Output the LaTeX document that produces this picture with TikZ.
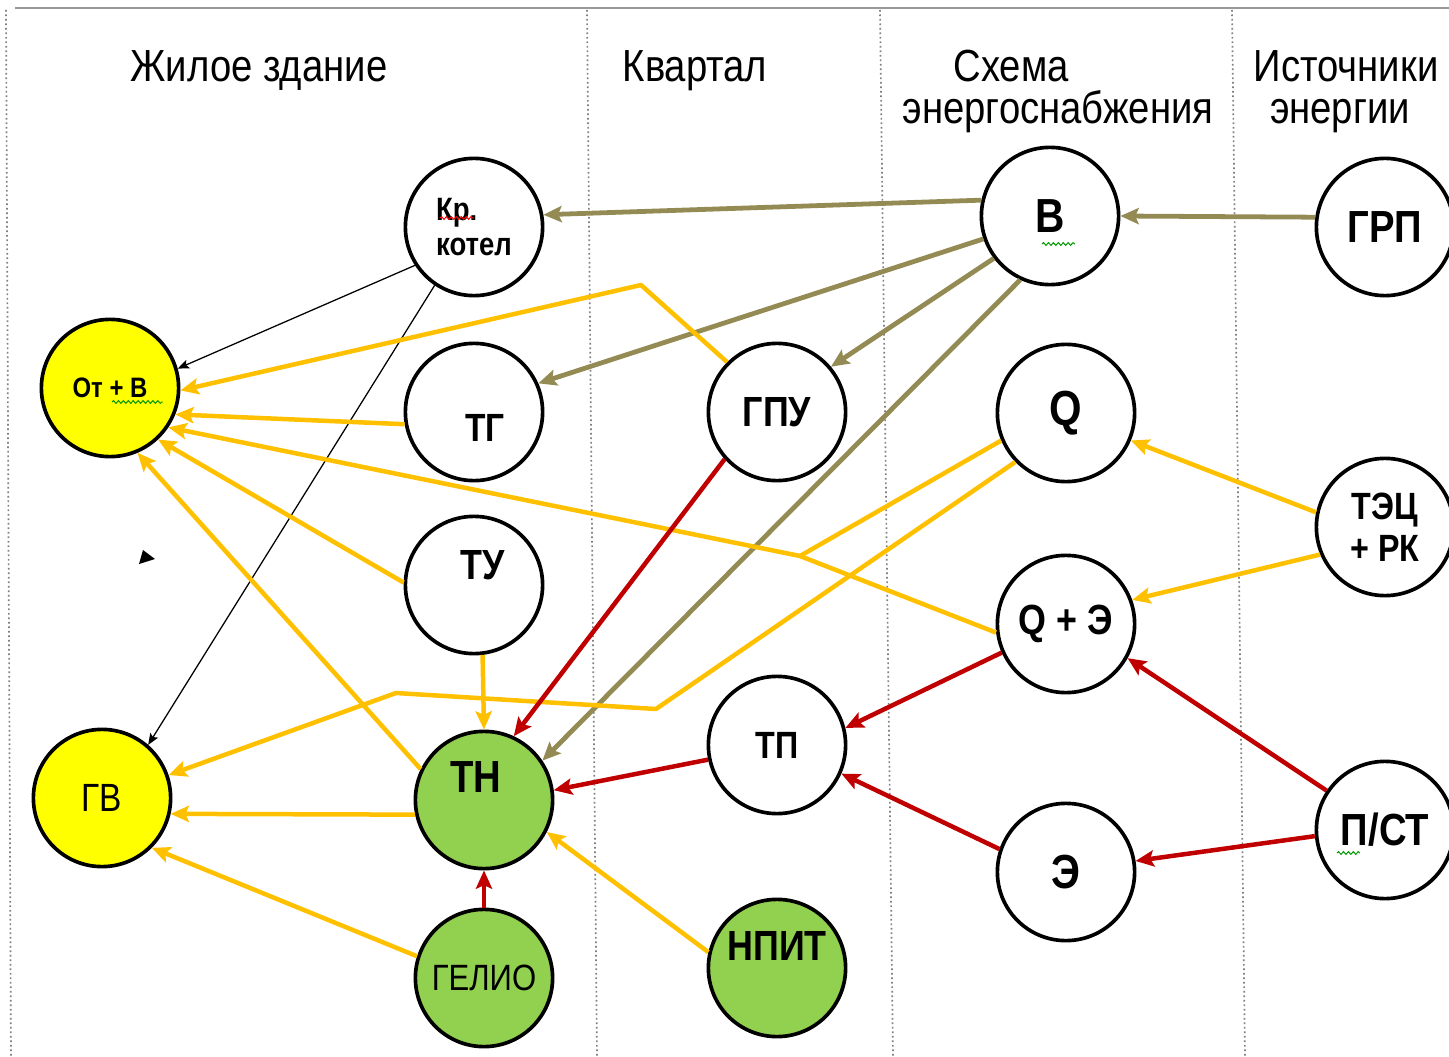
\documentclass[tikz,border=0pt]{standalone}
\usepackage{fontspec}
\setmainfont{Liberation Sans}[FakeStretch=0.85]
\usetikzlibrary{arrows.meta,decorations.pathmorphing}

\definecolor{heatc}{HTML}{FFC000}
\definecolor{gasc}{HTML}{948A54}
\definecolor{powerc}{HTML}{C00000}
\definecolor{loadc}{HTML}{FFFF00}
\definecolor{greenc}{HTML}{92D050}

\newcommand{\fs}[1]{\fontsize{#1}{1.1\dimexpr#1pt\relax}\selectfont}

\tikzset{>={Stealth[length=13pt,width=11.5pt,inset=2.5pt]},
  bubble/.style={circle,draw,line width=2.6pt,minimum size=3.43cm,inner sep=0pt,
    fill=white,align=center,font=\fs{30}\bfseries},
  tag/.style={font=\fs{30}\bfseries},
  head/.style={font=\fs{32},inner sep=0pt,text height=22pt,text depth=5pt},
  sep/.style={gray,dotted,line width=1.2pt},
  heatline/.style={heatc,line width=3.2pt,line join=round,->},
  gasline/.style={gasc,line width=3.4pt,->},
  powerline/.style={powerc,line width=3.2pt,->},
  thinline/.style={black,line width=0.9pt,-{Stealth[length=8pt,width=6.5pt,inset=1.5pt]}},
  squig/.style={line width=0.7pt,decorate,decoration={snake,amplitude=1pt,segment length=3.5pt}}}

\begin{document}
\begin{tikzpicture}[x=0.025cm,y=-0.025cm]
  \useasboundingbox (0,0) rectangle (1449,1057);
  \clip (0,0) rectangle (1449,1057);

  % frame and columns
  \draw[gray!80,line width=1.4pt] (15,8) -- (1449,8);
  \foreach \xa/\xb in {6/11,587/597,880/893,1232/1245}
    \draw[sep] (\xa,10) -- (\xb,1057);

  \node[head] (hdwell) at (259,70) {Жилое здание};
  \node[head] (hblock) at (695,70) {Квартал};
  \node[head] (hschema) at (1011,70) {Схема};
  \node[head] (hsupply) at (1058,112) {энергоснабжения};
  \node[head] (hsource) at (1346,70) {Источники};
  \node[head] (henergy) at (1340,112) {энергии};

  % building
  \node[bubble,align=left,font=\fs{23}\bfseries] (kr) at (474,227) {Кр.\\котел};
  \node[bubble,fill=loadc,font=\fs{20}\bfseries] (otv) at (110,388) {От + В};
  \node[bubble,label={[tag,font=\fs{28}\bfseries,shift={(8pt,-11pt)}]center:ТГ}] (tg) at (474,412) {};
  \node[bubble,label={[tag,shift={(6pt,14pt)}]center:ТУ}] (tu) at (474,585) {};
  \node[bubble,fill=loadc,font=\fs{28}] (gv) at (102,798) {ГВ};
  \node[bubble,fill=greenc,label={[tag,font=\fs{32}\bfseries,shift={(-6pt,16pt)}]center:ТН}] (tn) at (484,800) {};
  \node[bubble,fill=greenc,font=\fs{26}] (gelio) at (484,978) {ГЕЛИО};

  % block
  \node[bubble] (gpu) at (777,412) {ГПУ};
  \node[bubble,font=\fs{27}\bfseries] (tp) at (777,745) {ТП};
  \node[bubble,fill=greenc,label={[tag,shift={(0pt,16pt)}]center:НПИТ}] (npit) at (777,968) {};

  % supply scheme
  \node[bubble,font=\fs{34}\bfseries] (v) at (1050,216) {В};
  \node[bubble,font=\fs{35}\bfseries] (q) at (1066,413) {Q};
  \node[bubble] (qe) at (1066,624) {Q + Э};
  \node[bubble,font=\fs{34}\bfseries] (e) at (1066,872) {Э};

  % sources
  \node[bubble,font=\fs{32}\bfseries] (grp) at (1385,227) {ГРП};
  \node[bubble,font=\fs{27}\bfseries] (tec) at (1385,527) {ТЭЦ\\+ РК};
  \node[bubble,font=\fs{32}\bfseries] (pst) at (1385,830) {П/СТ};

  \coordinate (gbend) at (641,285);
  \coordinate (qmid) at (800,556);
  \coordinate (qbend) at (656,709);
  \coordinate (gvbend) at (396,693);

  % gas
  \draw[gasline] (grp.172) -- (v.0);
  \draw[gasline] (v.167) -- (kr.10);
  \draw[gasline] (v.199) -- (tg.24);
  \draw[gasline] (v.217) -- (gpu.40);
  \draw[gasline] (v.245) -- (tn.34);

  % boiler
  \draw[thinline] (kr.213) -- (otv.16);
  \draw[thinline] (kr.236) -- (gv.49);

  % heat
  \draw[heatline] (gpu.135) -- (gbend) -- (otv.-2);
  \draw[heatline] (tg.190) -- (otv.338);
  \draw[heatline] (tu.178) -- (otv.313);
  \draw[heatline] (tn.154) -- (otv.293);
  \draw[heatline,-] (q.203) -- (qmid);
  \draw[heatline] (qe.187) -- (qmid) -- (otv.326);
  \draw[heatline] (q.224) -- (qbend) -- (gvbend) -- (gv.19);
  \draw[heatline] (tu.277) -- (tn.90);
  \draw[heatline] (tn.192) -- (gv.347);
  \draw[heatline] (gelio.162) -- (gv.315);
  \draw[heatline] (npit.167) -- (tn.333);
  \draw[heatline] (tec.168) -- (q.337);
  \draw[heatline] (tec.203) -- (qe.20);

  % power
  \draw[powerline] (gpu.222) -- (tn.65);
  \draw[powerline] (tp.192) -- (tn.8);
  \draw[powerline] (gelio.90) -- (tn.270);
  \draw[powerline] (qe.204) -- (tp.14);
  \draw[powerline] (e.161) -- (tp.336);
  \draw[powerline] (pst.146) -- (qe.331);
  \draw[powerline] (pst.185) -- (e.9);

  \fill (143,550) -- (155,559) -- (139,564) -- cycle;

  % \draw[red,line width=5pt,opacity=.3] (0,0) -- (1449,1057);
  \draw[squig,red] (440,218) -- (474,218);
  \draw[squig,green!60!black] (112,402) -- (163,402);
  \draw[squig,green!60!black] (1042,244) -- (1075,244);
  \draw[squig,green!60!black] (1337,853) -- (1360,853);
\end{tikzpicture}
\end{document}
